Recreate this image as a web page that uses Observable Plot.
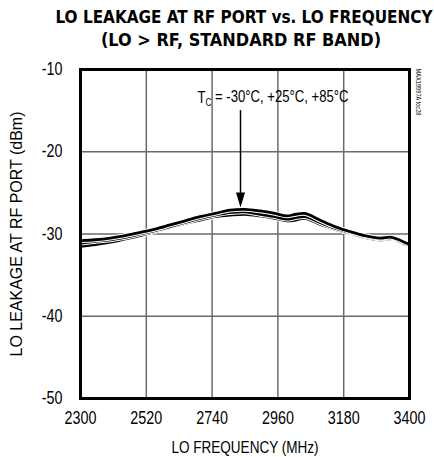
<!DOCTYPE html>
<html>
<head>
<meta charset="utf-8">
<script src="https://cdn.jsdelivr.net/npm/d3@7"></script>
<script src="https://cdn.jsdelivr.net/npm/@observablehq/plot@0.6"></script>
<style>
  html, body { margin: 0; padding: 0; background: #fff; }
  svg { display: block; }
</style>
</head>
<body>
<div id="chart"></div>
<script>
const titleLines = ["LO LEAKAGE AT RF PORT vs. LO FREQUENCY", "(LO > RF, STANDARD RF BAND)"];
const xLabel = "LO FREQUENCY (MHz)";
const yLabel = "LO LEAKAGE AT RF PORT (dBm)";
const noteText = "TC = -30°C, +25°C, +85°C";
const codeText = "MAX19997A toc28";

const xTicks = [2300, 2520, 2740, 2960, 3180, 3400];
const yTicks = [-10, -20, -30, -40, -50];

const freq = [2300, 2350, 2400, 2450, 2500, 2550, 2600, 2650, 2700, 2750, 2800, 2850, 2900, 2950, 2990, 3020, 3050, 3100, 3150, 3200, 3250, 3300, 3340, 3370, 3400];
const tA = [-30.8, -30.7, -30.5, -30.2, -29.8, -29.4, -28.9, -28.4, -27.9, -27.5, -27.1, -27.0, -27.2, -27.5, -27.8, -27.6, -27.5, -28.3, -29.1, -29.7, -30.2, -30.5, -30.4, -30.8, -31.3];
const tB = [-31.1, -30.9, -30.7, -30.4, -30.0, -29.6, -29.1, -28.6, -28.1, -27.7, -27.4, -27.3, -27.6, -27.9, -28.2, -28.0, -27.9, -28.6, -29.3, -29.8, -30.3, -30.6, -30.5, -30.9, -31.4];
const tC = [-31.5, -31.3, -31.0, -30.6, -30.2, -29.7, -29.2, -28.7, -28.3, -27.9, -27.7, -27.6, -27.8, -28.1, -28.4, -28.3, -28.1, -28.8, -29.4, -29.9, -30.4, -30.7, -30.6, -31.0, -31.5];

const seriesNames = ["+85°C", "+25°C", "-30°C"];
const seriesVals = [tC, tB, tA];

const arrowX = 2835;
const noteX = 2691, noteY = -13.5;

const sans = "'Liberation Sans', Arial, sans-serif";
const condBold = "'DejaVu Sans Condensed', 'Liberation Sans', sans-serif";

const lineMarks = [];
seriesVals.forEach((vals, i) => {
  const rows = freq.map((f, j) => ({f, v: vals[j], s: seriesNames[i]}));
  lineMarks.push(Plot.line(rows, {x: "f", y: "v", stroke: "white", strokeWidth: 4.8, curve: "catmull-rom"}));
  lineMarks.push(Plot.line(rows, {x: "f", y: "v", stroke: "black", strokeWidth: 2.8, curve: "catmull-rom"}));
});

const triangle = {
  draw(ctx) {
    const w = 4.5, h = 15;
    ctx.moveTo(0, h / 2);
    ctx.lineTo(-w, -h / 2);
    ctx.lineTo(w, -h / 2);
    ctx.closePath();
  }
};

const plot = Plot.plot({
  width: 434,
  height: 457,
  marginLeft: 80,
  marginRight: 25,
  marginTop: 69,
  marginBottom: 59,
  style: {fontFamily: sans, background: "white", overflow: "visible"},
  x: {domain: [2300, 3400], label: null},
  y: {domain: [-50, -10], label: null},
  marks: [
    Plot.gridX(xTicks, {stroke: "#6a6a6a", strokeOpacity: 1, strokeWidth: 1.5}),
    Plot.gridY(yTicks, {stroke: "#6a6a6a", strokeOpacity: 1, strokeWidth: 1.5}),
    ...lineMarks,
    Plot.ruleX([arrowX], {y1: -15.0, y2: -25.2, stroke: "black", strokeWidth: 1.5}),
    Plot.dot([{x: arrowX, y: -25.87}], {x: "x", y: "y", symbol: triangle, fill: "black", stroke: "none"}),
    Plot.text([noteText], {x: noteX, y: noteY, textAnchor: "start", lineAnchor: "middle", fontSize: 16, fill: "black"}),
    Plot.frame({stroke: "black", strokeWidth: 3}),
    Plot.axisX(xTicks, {tickSize: 0, tickPadding: 13, fontSize: 17.5, label: null, fill: "black", tickFormat: d => String(d)}),
    Plot.axisY(yTicks, {tickSize: 0, tickPadding: 18, fontSize: 17.5, label: null, fill: "black", tickFormat: d => String(d)}),
    Plot.text([xLabel], {frameAnchor: "bottom", dy: 49, lineAnchor: "middle", fontSize: 16.5, fill: "black"}),
    Plot.text([yLabel], {frameAnchor: "left", dx: -64, rotate: -90, textAnchor: "middle", lineAnchor: "middle", fontSize: 16.5, fill: "black"}),
    Plot.text([titleLines[0]], {frameAnchor: "top", dx: -1, dy: -52, lineAnchor: "middle", fontSize: 18, fontWeight: "bold", fontFamily: condBold, fill: "black"}),
    Plot.text([titleLines[1]], {frameAnchor: "top", dx: -4, dy: -29, lineAnchor: "middle", fontSize: 18, fontWeight: "bold", fontFamily: condBold, fill: "black"}),
    Plot.text([codeText], {frameAnchor: "top-right", dx: 9, dy: -1, rotate: 90, textAnchor: "start", lineAnchor: "middle", fontSize: 8, fill: "black"})
  ]
});

document.getElementById("chart").appendChild(plot);

// narrow the text (Helvetica Narrow look), fit widths, build the subscript
const fixedLengths = new Map([[titleLines[0], 377], [titleLines[1], 280], [yLabel, 245], [codeText, 47]]);
const svg = d3.select(plot);
svg.selectAll("text").each(function () {
  const t = this.textContent;
  if (fixedLengths.has(t)) {
    this.setAttribute("textLength", fixedLengths.get(t));
    this.setAttribute("lengthAdjust", "spacingAndGlyphs");
    return;
  }
  if (t === noteText) {
    const el = d3.select(this);
    el.text("");
    el.append("tspan").text("T");
    el.append("tspan").attr("dy", "0.3em").attr("font-size", 10).text("C");
    el.append("tspan").attr("dy", "-0.3em").text(" = -30°C, +25°C, +85°C");
  }
  const len = this.getComputedTextLength();
  if (len > 0) {
    this.setAttribute("textLength", (len * 0.82).toFixed(1));
    this.setAttribute("lengthAdjust", "spacingAndGlyphs");
  }
});
</script>
</body>
</html>
